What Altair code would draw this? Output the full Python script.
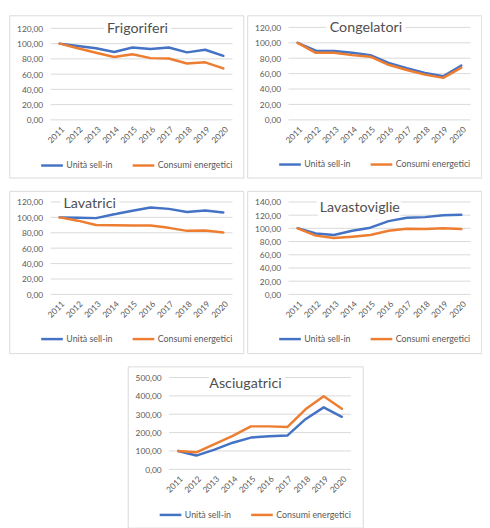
import altair as alt
import pandas as pd

FONT = "Lato"
TXT = "#595959"
GRID = "#D9D9D9"

years = [str(y) for y in range(2011, 2021)]
series_names = ["Unità sell-in", "Consumi energetici"]
series_colors = ["#4472C4", "#ED7D31"]

frig_units = [100, 97, 94, 89, 95, 93, 95, 88.5, 92, 84]
frig_energy = [100, 94, 88, 82.5, 86, 81, 80.5, 74, 75.5, 67.5]
cong_units = [100, 89.8, 89.4, 87, 84, 74, 67, 61, 56.6, 70.6]
cong_energy = [100, 87, 87, 84, 82, 71.5, 64.7, 58.7, 54.5, 67.7]
lavatr_units = [100, 99.6, 99, 104, 108.5, 112.8, 111, 107, 109, 106.4]
lavatr_energy = [100, 95.7, 90, 89.8, 89.4, 89.4, 86.4, 82.5, 83, 80.4]
lavast_units = [100.3, 92.3, 90, 96.3, 101, 111, 116, 117, 120, 120.6]
lavast_energy = [100, 89, 85.4, 87.4, 90, 96.3, 99.3, 99, 100.3, 99]
asciu_units = [100, 75, 107, 145, 173, 180, 184, 273, 337.5, 286]
asciu_energy = [100, 93, 137.5, 182, 234, 234, 230, 327, 398, 330]

ticks_120 = [0, 20, 40, 60, 80, 100, 120]
ticks_140 = [0, 20, 40, 60, 80, 100, 120, 140]
ticks_500 = [0, 100, 200, 300, 400, 500]


def panel(title, units, energy, ticks, w, h, y_top, y_bottom, tx, ty, leg_y):
    df = pd.DataFrame({
        "anno": years * 2,
        "serie": [series_names[0]] * len(years) + [series_names[1]] * len(years),
        "valore": list(units) + list(energy),
    })
    gdf = pd.DataFrame({"tick": ticks})
    tdf = pd.DataFrame({"titolo": [title]})

    yscale = alt.Scale(domain=[0, ticks[-1]], range=[y_bottom, y_top], nice=False, zero=True)
    xscale = alt.Scale(type="point", domain=years, range=[42, 227], padding=0.5)
    cscale = alt.Scale(domain=series_names, range=series_colors)

    yaxis = alt.Axis(orient="left", offset=-42, values=ticks,
                     labelExpr="replace(format(datum.value, '.2f'), '.', ',')",
                     labelPadding=8, ticks=False, tickSize=0, domain=False, grid=False,
                     title=None, labelFont=FONT, labelFontSize=8.5, labelColor=TXT)
    xaxis = alt.Axis(orient="bottom", offset=-(h - y_bottom), labelAngle=-45,
                     labelAlign="right", labelBaseline="top", labelPadding=5,
                     labelOverlap=False, ticks=False, tickSize=0, domain=False,
                     grid=False, title=None, labelFont=FONT, labelFontSize=8.5,
                     labelColor=TXT)
    legend = alt.Legend(orient="none", legendX=31, legendY=leg_y - 11,
                        direction="horizontal", title=None, symbolType="stroke",
                        symbolSize=484, symbolStrokeWidth=2.5, labelFont=FONT,
                        labelFontSize=9, labelColor=TXT, labelOffset=2,
                        columnPadding=14, padding=0)

    grid = alt.Chart(gdf).mark_rule(color=GRID, strokeWidth=1).encode(
        y=alt.Y("tick:Q", scale=yscale, axis=yaxis),
        x=alt.value(42), x2=alt.value(227),
    )

    def line(name):
        return alt.Chart(df).transform_filter(alt.datum.serie == name).mark_line(
            strokeWidth=2.5, strokeJoin="round", strokeCap="round"
        ).encode(
            x=alt.X("anno:O", scale=xscale, axis=xaxis),
            y=alt.Y("valore:Q", scale=yscale, axis=yaxis),
            color=alt.Color("serie:N", scale=cscale, legend=legend),
        )

    halo = alt.Chart(tdf).mark_text(font=FONT, fontSize=14.5, fill="white", stroke="white",
                                    strokeWidth=9, strokeJoin="round", align="center",
                                    baseline="alphabetic").encode(
        text="titolo:N", x=alt.value(tx), y=alt.value(ty))
    txt = alt.Chart(tdf).mark_text(font=FONT, fontSize=14.5, fill="#505050", align="center",
                                   baseline="alphabetic").encode(
        text="titolo:N", x=alt.value(tx), y=alt.value(ty))

    return alt.layer(grid, line(series_names[0]), line(series_names[1]), halo, txt).properties(
        width=w, height=h)


p1 = panel("Frigoriferi", frig_units, frig_energy, ticks_120, 238, 165, 13.3, 106.3, 130.5, 18.3, 151)
p2 = panel("Congelatori", cong_units, cong_energy, ticks_120, 238, 165, 12.3, 106.3, 120.7, 17.3, 150)
p3 = panel("Lavatrici", lavatr_units, lavatr_energy, ticks_120, 238, 165, 11.3, 105.3, 81.8, 17.3, 149)
p4 = panel("Lavastoviglie", lavast_units, lavast_energy, ticks_140, 238, 165, 11.3, 105.3, 114.5, 21.3, 149)
p5 = panel("Asciugatrici", asciu_units, asciu_energy, ticks_500, 239, 164, 11.3, 104.7, 119.7, 22, 149.3)

row1 = alt.hconcat(p1, p2, spacing=2).resolve_scale(color="independent").resolve_legend(color="independent")
row2 = alt.hconcat(p3, p4, spacing=2).resolve_scale(color="independent").resolve_legend(color="independent")

chart = alt.vconcat(row1, row2, p5, spacing=11.5, center=True).resolve_scale(
    color="independent").resolve_legend(color="independent").properties(
    padding={"left": 0, "top": 2, "right": 0, "bottom": 0},
    background="white",
).configure_view(stroke=GRID, strokeWidth=1)

chart.save("out.html", embed_options={"renderer": "svg", "actions": False})
